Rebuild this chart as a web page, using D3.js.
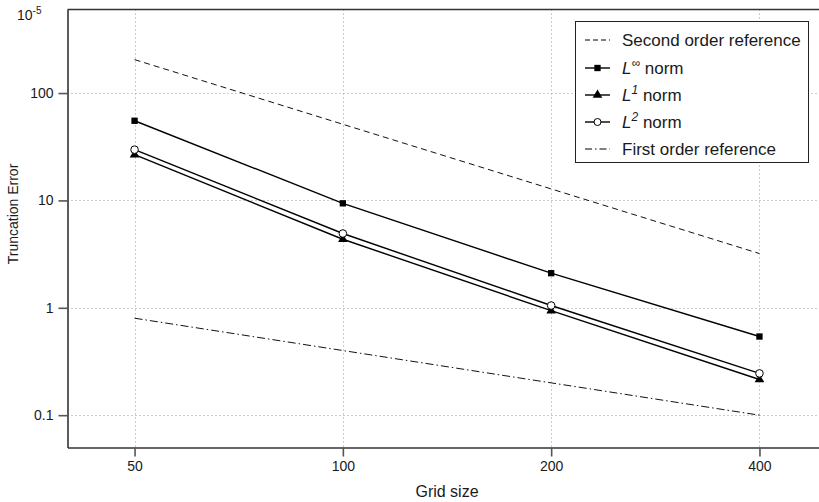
<!DOCTYPE html>
<html><head><meta charset="utf-8">
<script src="https://cdn.jsdelivr.net/npm/d3@7"></script>
<style>
body{margin:0;background:#fff;}
svg{display:block;font-family:"Liberation Sans",Arial,Helvetica,sans-serif;}
</style></head>
<body><svg id="c" width="819" height="502"></svg>
<script>
const gridSizes = [50, 100, 200, 400];
const xTicks = [50, 100, 200, 400];
const yTicks = [0.1, 1, 10, 100];
const yTickLabels = ["0.1", "1", "10", "100"];
const secondOrder = [204.8, 51.2, 12.8, 3.2];
const lInf = [55.2, 9.4, 2.1, 0.54];
const l1 = [26.7, 4.35, 0.94, 0.215];
const l2 = [29.7, 4.92, 1.05, 0.245];
const firstOrder = [0.8, 0.4, 0.2, 0.1];

const svg = d3.select("#c");
const L = 67.5, T = 9.5, B = 447.5;
const x = d3.scaleLog().base(2).domain([40, 500]).range([L, L + 208.3 * Math.log2(500/40)]);
const y = d3.scaleLog().domain([0.05, 600]).range([B, T]);
const R = x.range()[1];

// grid
const grid = svg.append("g").attr("stroke", "#9a9a9a").attr("stroke-width", 1).attr("stroke-dasharray", "1,3");
grid.selectAll("line.gx").data(xTicks).join("line")
  .attr("x1", d => Math.round(x(d)) + 0.5).attr("x2", d => Math.round(x(d)) + 0.5)
  .attr("y1", T).attr("y2", B);
grid.selectAll("line.gy").data(yTicks).join("line")
  .attr("y1", d => Math.round(y(d)) + 0.5).attr("y2", d => Math.round(y(d)) + 0.5)
  .attr("x1", L).attr("x2", R);

// axes
const xAxis = d3.axisBottom(x).tickValues(xTicks).tickFormat(d3.format("d")).tickSizeOuter(0).tickSizeInner(9).tickPadding(5);
const yAxis = d3.axisLeft(y).tickValues(yTicks).tickFormat((d, i) => yTickLabels[i]).tickSizeOuter(0).tickSizeInner(9).tickPadding(5);
const gx = svg.append("g").attr("transform", `translate(0,${B})`).call(xAxis);
const gy = svg.append("g").attr("transform", `translate(${L},0)`).call(yAxis);
[gx, gy].forEach(g => {
  g.select(".domain").attr("stroke", "#333").attr("stroke-width", 1.6);
  g.selectAll(".tick line").attr("stroke", "#555").attr("stroke-width", 1.6);
  g.selectAll(".tick text").attr("fill", "#1a1a1a").style("font-size", "14px").style("font-family", "Liberation Sans, Arial, sans-serif");
});
// top border
svg.append("line").attr("x1", L).attr("x2", R).attr("y1", T).attr("y2", T).attr("stroke", "#333").attr("stroke-width", 1.6);

// series
const pts = vals => vals.map((v, i) => [x(gridSizes[i]), y(v)]);
const line = d3.line();
const g = svg.append("g").attr("fill", "none");
g.append("path").attr("d", line(pts(secondOrder))).attr("stroke", "#111").attr("stroke-width", 1).attr("stroke-dasharray", "6,4");
g.append("path").attr("d", line(pts(firstOrder))).attr("stroke", "#111").attr("stroke-width", 1).attr("stroke-dasharray", "8,3,1.5,3");
g.append("path").attr("d", line(pts(lInf))).attr("stroke", "#000").attr("stroke-width", 1.4);
g.append("path").attr("d", line(pts(l1))).attr("stroke", "#000").attr("stroke-width", 1.4);
g.append("path").attr("d", line(pts(l2))).attr("stroke", "#000").attr("stroke-width", 1.4);

const sq = d3.symbol(d3.symbolSquare, 40);
const tri = d3.symbol(d3.symbolTriangle, 40);
svg.append("g").selectAll("path").data(pts(lInf)).join("path")
  .attr("transform", d => `translate(${d[0]},${d[1]})`).attr("d", sq).attr("fill", "#000");
svg.append("g").selectAll("path").data(pts(l1)).join("path")
  .attr("transform", d => `translate(${d[0]},${d[1]})`).attr("d", tri).attr("fill", "#000");
svg.append("g").selectAll("circle").data(pts(l2)).join("circle")
  .attr("cx", d => d[0]).attr("cy", d => d[1]).attr("r", 3.8).attr("fill", "#fff").attr("stroke", "#000").attr("stroke-width", 1);

// axis labels
svg.append("text").attr("x", 447).attr("y", 497).attr("text-anchor", "middle").attr("fill", "#1a1a1a")
  .style("font-size", "16px").text("Grid size");
svg.append("text").attr("transform", "translate(18,214) rotate(-90)").attr("text-anchor", "middle").attr("fill", "#1a1a1a")
  .style("font-size", "14px").text("Truncation Error");

// exponent label
const ex = svg.append("text").attr("x", 17).attr("y", 20).attr("fill", "#1a1a1a").style("font-size", "14px");
ex.append("tspan").text("10");
ex.append("tspan").attr("dy", -6).style("font-size", "10px").text("-5");

// legend
const lg = svg.append("g");
lg.append("rect").attr("x", 575.5).attr("y", 21.5).attr("width", 233).attr("height", 141)
  .attr("fill", "#fff").attr("stroke", "#222").attr("stroke-width", 1);
const rows = [
  {y: 40, type: "dash", label: [["Second order reference", false, false]]},
  {y: 68, type: "sq", label: [["L", true, false], ["∞", true, true], [" norm", false, false]]},
  {y: 95, type: "tri", label: [["L", true, false], ["1", true, true], [" norm", false, false]]},
  {y: 122, type: "circ", label: [["L", true, false], ["2", true, true], [" norm", false, false]]},
  {y: 149, type: "dashdot", label: [["First order reference", false, false]]}
];
rows.forEach(r => {
  const ln = lg.append("line").attr("x1", 585).attr("x2", 610).attr("y1", r.y).attr("y2", r.y).attr("stroke", "#000");
  if (r.type === "dash") ln.attr("stroke-dasharray", "5,3").attr("stroke-width", 1);
  else if (r.type === "dashdot") ln.attr("stroke-dasharray", "7,3,1.5,3").attr("stroke-width", 1);
  else ln.attr("stroke-width", 1.4);
  if (r.type === "sq") lg.append("path").attr("transform", `translate(597.5,${r.y})`).attr("d", sq).attr("fill", "#000");
  if (r.type === "tri") lg.append("path").attr("transform", `translate(597.5,${r.y})`).attr("d", tri).attr("fill", "#000");
  if (r.type === "circ") lg.append("circle").attr("cx", 597.5).attr("cy", r.y).attr("r", 3.5).attr("fill", "#fff").attr("stroke", "#000");
  const t = lg.append("text").attr("x", 622).attr("y", r.y + 6).attr("fill", "#1a1a1a").style("font-size", "17px");
  r.label.forEach(([s, it, sup]) => {
    const ts = t.append("tspan").text(s);
    if (it) ts.style("font-style", "italic");
    if (sup) ts.attr("dy", -7).style("font-size", "12px");
    else if (s === " norm") ts.attr("dy", 7);
  });
});
</script></body></html>
